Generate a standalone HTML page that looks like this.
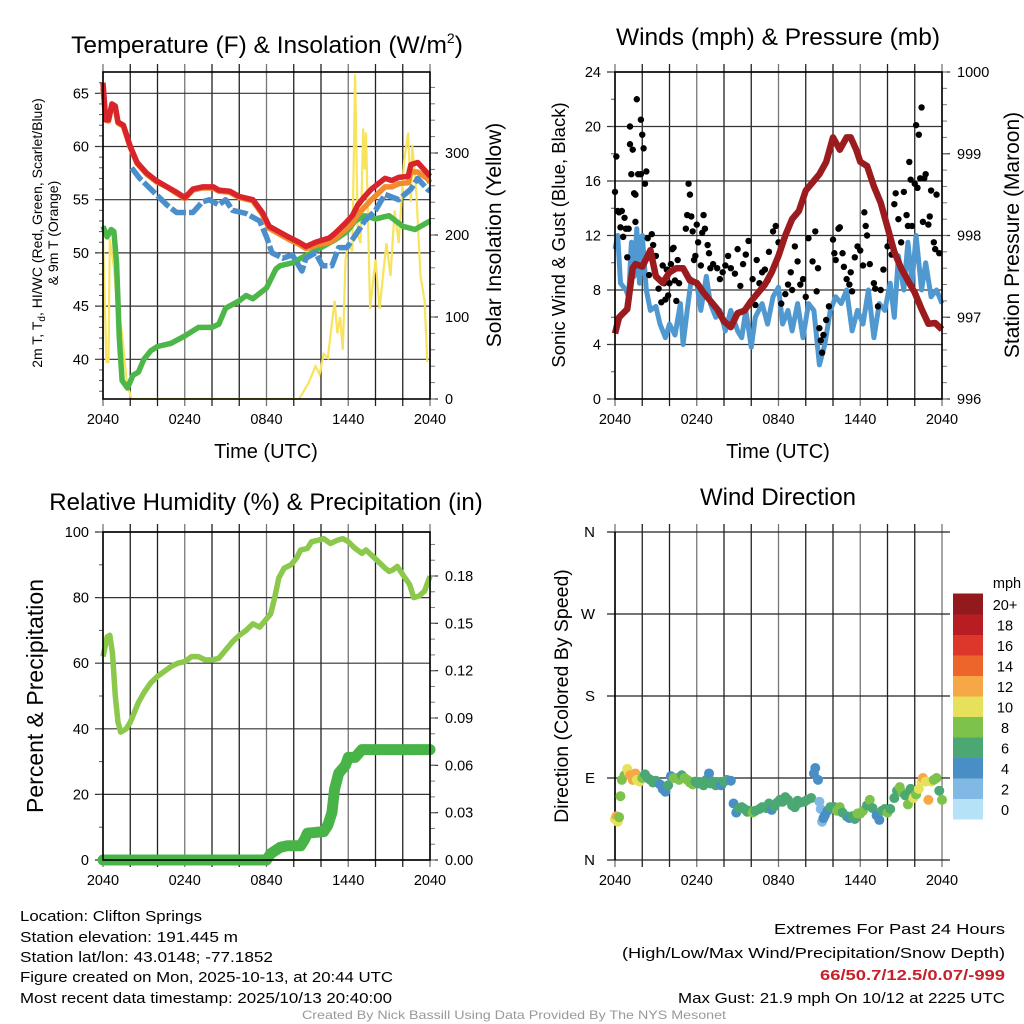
<!DOCTYPE html>
<html><head><meta charset="utf-8"><style>
html,body{margin:0;padding:0;background:#fff}
svg{display:block;font-family:"Liberation Sans",sans-serif}
</style></head><body>
<svg id="fig" xmlns="http://www.w3.org/2000/svg" width="1024" height="1024" viewBox="0 0 1024 1024">
<rect x="0" y="0" width="1024" height="1024" fill="#fff"/>
<g><text x="267" y="53" font-size="24.5" text-anchor="middle">Temperature (F) &amp; Insolation (W/m<tspan font-size="14" dy="-10">2</tspan><tspan dy="10">)</tspan></text></g>
<text x="778" y="45" font-size="24.5" text-anchor="middle">Winds (mph) &amp; Pressure (mb)</text>
<text x="266" y="510" font-size="24" text-anchor="middle">Relative Humidity (%) &amp; Precipitation (in)</text>
<text x="778" y="505" font-size="24" text-anchor="middle">Wind Direction</text>

<text x="266" y="458" font-size="20" text-anchor="middle">Time (UTC)</text>
<text x="778" y="458" font-size="20" text-anchor="middle">Time (UTC)</text>

<g font-size="14" text-anchor="middle">
<text transform="translate(42,233) rotate(-90)">2m T, T<tspan font-size="10" dy="3">d</tspan><tspan dy="-3">, HI/WC (Red, Green, Scarlet/Blue)</tspan></text>
<text transform="translate(58,233) rotate(-90)">&amp; 9m T (Orange)</text>
</g>
<text transform="translate(501,235) rotate(-90)" font-size="21" text-anchor="middle">Solar Insolation (Yellow)</text>
<text transform="translate(565,235) rotate(-90)" font-size="18.5" text-anchor="middle">Sonic Wind &amp; Gust (Blue, Black)</text>
<text transform="translate(1019,235) rotate(-90)" font-size="21" text-anchor="middle">Station Pressure (Maroon)</text>
<text transform="translate(43,696) rotate(-90)" font-size="23" text-anchor="middle">Percent &amp; Precipitation</text>
<text transform="translate(568,696) rotate(-90)" font-size="19.5" text-anchor="middle">Direction (Colored By Speed)</text>

<g font-size="15">
<text x="20" y="921" textLength="182" lengthAdjust="spacingAndGlyphs">Location: Clifton Springs</text>
<text x="20" y="942" textLength="218" lengthAdjust="spacingAndGlyphs">Station elevation: 191.445 m</text>
<text x="20" y="962" textLength="253" lengthAdjust="spacingAndGlyphs">Station lat/lon: 43.0148; -77.1852</text>
<text x="20" y="982" textLength="373" lengthAdjust="spacingAndGlyphs">Figure created on Mon, 2025-10-13, at 20:44 UTC</text>
<text x="20" y="1003" textLength="372" lengthAdjust="spacingAndGlyphs">Most recent data timestamp: 2025/10/13 20:40:00</text>
</g>
<g font-size="15">
<text x="774" y="934" textLength="231" lengthAdjust="spacingAndGlyphs">Extremes For Past 24 Hours</text>
<text x="622" y="958" textLength="383" lengthAdjust="spacingAndGlyphs">(High/Low/Max Wind/Precipitation/Snow Depth)</text>
<text x="820" y="980" textLength="185" lengthAdjust="spacingAndGlyphs" fill="#c8202a" font-weight="bold">66/50.7/12.5/0.07/-999</text>
<text x="678" y="1003" textLength="327" lengthAdjust="spacingAndGlyphs">Max Gust: 21.9 mph On 10/12 at 2225 UTC</text>
</g>
<text x="302" y="1019" font-size="12" fill="#999" textLength="424" lengthAdjust="spacingAndGlyphs">Created By Nick Bassill Using Data Provided By The NYS Mesonet</text>
</svg>
<script>
// ---------- DATA ----------
const xTickLabels = ["2040","0240","0840","1440","2040"];
// Temperature panel (hours since 2040 UTC)
const tempT = [0,0.2,0.4,0.65,0.9,1.1,1.5,2.0,2.5,3.2,3.9,4.7,5.4,6,6.6,7.3,8.1,8.5,9.3,10,11,11.7,12.2,12.9,13.6,14.4,14.9,15.6,16.6,17,17.8,18.3,18.7,19.2,19.7,20.7,21.2,21.7,22.4,22.6,23.1,23.8,24];
const tempRed = [66,62.5,62.5,64,63.8,62.3,62,60,58.5,57.5,56.8,56.2,55.7,55.2,56,56.2,56.2,55.9,55.8,55.3,55,53.8,52.5,52,51.5,51,50.6,51,51.4,51.8,52.8,53.5,54.5,55.3,56,57,56.8,57.1,57.2,58.3,58.5,57.5,57.2];
const tempOrange = [65.5,62.5,62.4,63.8,63.6,62.2,61.9,59.9,58.4,57.4,56.7,56.2,55.6,55.1,55.9,56.1,56.1,55.8,55.7,55.2,54.9,53.6,52.3,51.8,51.3,50.8,50.4,50.7,51.0,51.3,52.2,52.8,53.6,54.3,55,56.2,56.2,56.5,56.6,57.6,57.6,57.0,56.6];
const blueT = [2.1,2.7,4.7,5.4,6.6,7.3,7.8,8.5,9,9.5,10.5,11.5,12,12.4,13.2,13.9,14.6,14.9,15.6,16.1,16.8,17.3,17.9,18.7,19.2,20,20.7,21.7,22.6,23.1,23.8,24];
const blueVal = [58,57,54.5,53.8,53.8,54.8,55,54.5,55,54,53.7,53,51.5,50,49.5,49.8,48.3,49.5,50,48.8,48.8,50.5,50.5,52,53,54,55.5,55,56,57,56,55.8];
const dewT = [0,0.3,0.6,0.8,1.0,1.2,1.4,1.8,2.2,2.6,3,3.5,4,5,6,7,8,8.5,9,10,10.5,11,11.5,12,12.7,13,14,14.5,15,16,17,17.9,18.5,19.2,20,21,21.5,22,22.9,24];
const dewVal = [52.5,51.5,52.2,52,49,42,38,37.3,38.5,38.8,40,40.8,41.2,41.5,42.2,43,43,43.3,44.8,45.5,46,45.7,46.2,46.7,48.5,48.8,49.1,49.5,49.8,50.5,51.2,52,53,53.5,53.2,53.5,53,52.5,52.2,53];
const solarT = [0,0.25,0.4,0.5,0.8,1.0,1.4,1.75,2.1,14.4,15.1,15.6,15.9,16.2,16.5,17,17.2,17.4,17.6,17.8,18.0,18.3,18.5,18.7,18.9,19.1,19.2,19.3,19.6,20,20.3,20.8,21.1,21.4,21.7,22.1,22.4,22.6,22.7,23,23.3,23.6,23.8];
const solarVal = [200,45,45,195,160,120,80,20,0,0,20,40,30,55,50,120,80,100,60,170,190,180,396,200,190,330,280,325,110,170,110,190,150,230,190,290,325,240,310,250,150,120,45];
const tempTicks = [40,45,50,55,60,65];
const solarTicks = [0,100,200,300];
// Winds panel
const windT = [0,0.2,0.4,0.8,1.0,1.2,1.4,1.6,1.8,2.0,2.3,2.6,3.0,3.3,3.7,4.0,4.4,4.8,5.0,5.3,5.6,6.0,6.3,6.7,7.0,7.4,7.7,8.1,8.5,9.0,9.3,9.6,10.0,10.3,10.8,11.2,11.6,12.0,12.3,12.7,13.0,13.4,13.8,14.2,14.6,15.0,15.4,15.8,16.2,16.6,17.0,17.4,17.8,18.2,18.6,19.0,19.4,19.8,20.2,20.5,20.8,21.2,21.5,21.8,22.1,22.5,22.8,23.2,23.6,24];
const windVal = [11,12,8.5,8,7.5,11.5,9,12.5,8.5,12,8,6.5,6.8,5.5,4.5,5.5,4.7,7,4.0,6.5,8.8,8.5,6.5,9,7,6,6.5,5,6.5,5,4.5,6.5,3.8,6,7,5.5,7.5,8.2,5.5,6.5,5,7,4.5,7,6.5,2.5,4,6.5,7.5,7,8,5,6.5,5.5,8,4.5,7,6.5,8.5,6,10.5,8,11.5,8.5,12,8,10,7.5,8,7];
const gustT = [0,0.1,0.2,0.3,0.4,0.5,0.6,0.7,0.8,0.9,1.0,1.1,1.1,1.2,1.3,1.4,1.5,1.5,1.6,1.7,1.9,1.9,2.0,2.1,2.2,2.3,2.4,2.5,2.7,2.8,3.0,3.2,3.4,3.5,3.6,3.7,3.8,3.9,4.0,4.1,4.2,4.3,4.4,4.5,4.6,4.7,5.2,5.3,5.4,5.5,5.6,5.7,5.8,5.9,6.0,6.1,6.3,6.4,6.5,6.6,6.8,6.9,7.0,7.2,7.5,7.7,7.9,8.1,8.3,8.5,8.8,9.0,9.2,9.4,9.6,9.8,10.1,10.3,10.4,10.6,10.8,11.0,11.2,11.3,11.6,11.8,12.0,12.2,12.5,12.7,12.9,13.0,13.2,13.4,13.6,13.8,14.0,14.2,14.5,14.7,14.8,14.9,15.0,15.1,15.2,15.3,15.5,15.7,16.0,16.1,16.2,16.4,16.5,16.7,16.8,17.0,17.2,17.3,17.4,17.6,17.8,18.0,18.2,18.3,18.4,18.5,18.7,19.0,19.1,19.3,19.5,19.7,20.0,20.2,20.3,20.5,20.6,20.8,21.0,21.2,21.4,21.5,21.6,21.7,21.8,22.0,22.1,22.2,22.3,22.4,22.5,22.6,22.7,22.8,23.0,23.1,23.2,23.4,23.5,23.6,23.8];
const gustVal = [15.2,17.8,13.8,13.7,12.6,13.8,11.9,13.3,12.5,10.4,12.5,18.7,20,16.5,18.3,15.1,13,15,22,16.5,20.5,16.5,19.4,18.4,15.8,16.7,11.8,9.1,12.1,11.3,10.5,8.1,7.1,9.8,8.5,7.3,9.5,7.6,8.5,9.9,11,11.1,8.7,7.2,10.2,8.5,12.5,13.5,15.8,15,13.4,12.3,10.2,10.5,12.8,11.5,9.8,12.2,13.5,12.5,11.3,10.7,9.6,9.9,9.6,8.8,9.3,9.8,10.5,9.6,9.2,11,8.3,9.9,10.6,11.6,8.8,6.9,10.2,8.5,9.3,9.5,8.7,10.8,12.3,12.7,11.5,7,7.7,8.4,9.3,8.0,11.2,10.1,8.4,8.8,7.5,11.8,10.1,12.3,7.9,9.6,5.2,4.3,3.4,4.7,5.8,6.8,11.7,10.7,10.2,12.5,12.6,10.7,9.7,8.8,8.4,9.3,7.9,10.4,11.2,10.9,9.8,13.7,12.7,12,9.9,8.5,8.1,6.8,8,9.5,11.2,11.7,10.6,14.3,15.1,13.2,11.5,15.2,13.5,12.7,17.4,16.1,12.7,15.8,20.1,15.5,19.4,16.2,21.4,13,16.2,16.5,12.8,13.4,15.3,11.5,11,15,10.7];
const presT = [0,0.3,0.9,1.3,1.5,2.0,2.4,2.6,3.0,3.5,4.0,4.5,5.0,5.5,6.0,6.5,7.0,7.5,8.0,8.5,9.0,9.5,10.0,10.5,11.0,11.5,12.0,12.5,13.0,13.5,14.0,14.5,15.0,15.5,16.0,16.5,17.0,17.3,17.7,18,18.5,19.0,19.5,20.0,20.5,21.0,21.5,22.0,22.5,23.0,23.5,24];
const presVal = [996.8,997.0,997.1,997.6,997.65,997.62,997.75,997.82,997.5,997.42,997.55,997.6,997.6,997.45,997.42,997.3,997.2,997.1,996.95,996.88,997.05,997.08,997.2,997.3,997.4,997.55,997.75,998.0,998.2,998.3,998.55,998.65,998.75,998.9,999.2,999.05,999.2,999.2,999.05,998.9,998.85,998.6,998.4,998.1,997.8,997.6,997.45,997.3,997.1,996.92,996.93,996.85];
const windTicks = [0,4,8,12,16,20,24];
const presTicks = [996,997,998,999,1000];
// Humidity / precip panel
const rhT = [0,0.3,0.5,0.7,0.9,1.1,1.3,1.7,2.0,2.3,2.6,3.0,3.5,4.0,4.5,5.0,5.5,6.0,6.5,7.0,7.5,8.0,8.5,9.0,9.5,10.0,10.5,11.0,11.5,12.0,12.3,12.6,12.9,13.3,13.8,14.2,14.5,15.0,15.3,15.8,16.2,16.7,17.2,17.6,18.0,18.5,19.0,19.3,19.7,20.2,20.7,21.0,21.3,21.6,22.0,22.5,22.8,23.2,23.6,24];
const rhVal = [62,68,68.5,63,50,42,39,40,42,45,48,51,54,56,57.5,59,60,60.5,62,62,61,61,61.5,64,66.5,68.5,70,72,71,73.5,75,80,86,89,90,92,94.5,95,97,97.5,98,96.5,97.5,98,97,95,93.5,94.5,93,91,89,88,88.5,89.5,87,84,80,80.5,82,86.5];
const precT = [0,12,12.3,13,13.5,14.5,14.8,15,16.2,16.5,16.8,17,17.3,17.8,18,18.5,19,24];
const precVal = [0,0,0.004,0.008,0.009,0.009,0.013,0.017,0.018,0.022,0.03,0.045,0.055,0.06,0.065,0.065,0.07,0.07];
const rhTicks = [0,20,40,60,80,100];
const precTicks = [0,0.03,0.06,0.09,0.12,0.15,0.18];
const precTickLabels = ["0.00","0.03","0.06","0.09","0.12","0.15","0.18"];
// Wind direction panel
const dirT = [0,0.1,0.2,0.3,0.4,0.5,0.7,0.9,1.0,1.1,1.3,1.5,1.6,1.8,2.0,2.2,2.4,2.6,2.8,3.0,3.3,3.5,3.7,3.9,4.1,4.3,4.5,4.7,4.9,5.1,5.3,5.5,5.7,5.9,6.1,6.3,6.5,6.7,6.9,7.0,7.2,7.4,7.6,7.8,8.0,8.2,8.5,8.7,8.9,9.1,9.3,9.5,9.7,9.9,10.1,10.3,10.6,10.8,11.1,11.3,11.5,11.7,11.9,12.1,12.3,12.5,12.7,13.0,13.2,13.4,13.6,13.9,14.1,14.4,14.6,14.7,14.9,15.0,15.1,15.2,15.3,15.4,15.6,15.8,16.1,16.3,16.5,16.7,17.0,17.2,17.4,17.6,17.8,18.0,18.2,18.5,18.7,18.9,19.2,19.4,19.6,19.8,20.0,20.2,20.5,20.7,20.9,21.1,21.3,21.5,21.7,21.9,22.1,22.3,22.5,22.6,22.8,23.0,23.2,23.4,23.6,23.8,24];
const dirVal = [45,48,42,47,70,88,93,100,96,93,88,95,88,86,90,94,90,88,85,87,83,78,75,82,92,90,90,88,93,90,88,85,83,86,84,85,82,88,95,84,86,82,85,82,86,88,87,62,52,57,58,56,53,54,52,54,56,58,57,62,55,59,63,66,64,69,66,60,58,65,63,64,66,68,95,101,88,64,56,42,46,49,54,58,58,54,58,52,48,46,48,45,51,51,54,60,66,57,49,44,54,56,52,56,68,76,80,74,71,61,78,68,72,78,86,90,86,66,86,88,90,76,66];
const dirSpeed = [10,12,10,8,8,8,8,10,10,12,12,12,10,10,8,6,6,6,6,6,4,4,4,6,4,8,8,8,6,8,8,8,8,6,6,6,6,6,4,6,6,6,6,4,6,6,4,4,4,6,6,6,6,6,8,6,6,6,6,6,4,6,6,6,6,6,6,6,6,6,6,6,6,6,4,4,4,2,2,2,4,4,4,6,6,8,8,6,6,4,6,6,8,8,8,6,8,6,4,4,6,6,8,6,6,6,8,8,6,8,6,10,8,10,10,12,10,12,10,8,8,6,8];
const dirTicks = [0,90,180,270,360];
const dirTickLabels = ["N","E","S","W","N"];
const speedBinLabels = ["0","2","4","6","8","10","12","14","16","18","20+"];
const speedBinColors = ["#b5e2f7","#80bae4","#4a8ec6","#4ba873","#7dc24b","#e6e05a","#f5a845","#ee652c","#dd372b","#b91d24","#921a1d"];

// ---------- DRAW ----------
const NS = "http://www.w3.org/2000/svg";
const svg = document.getElementById("fig");
function add(parent, tag, attrs){
  const e = document.createElementNS(NS, tag);
  for (const k in attrs) e.setAttribute(k, attrs[k]);
  parent.appendChild(e);
  return e;
}
function linScale(d0,d1,r0,r1){ return v => r0 + (v-d0)*(r1-r0)/(d1-d0); }

function panel(name, x0, x1, yTop, yBot){
  const g = add(svg, "g", {});
  
  
  const xs = linScale(0,24,x0,x1);
  for (let h=0; h<=24; h+=2){
    const gl = add(g, "line", {x1:xs(h), x2:xs(h), y1:yTop-8, y2:yBot+7, stroke:(h%6===0)?"#777":"#222", "stroke-width":1.3});
    
    
  }
  for (let i=0;i<xTickLabels.length;i++){
    const t = add(g, "text", {x:xs(i*6), y:yBot+25, "font-size":14.5, "text-anchor":"middle"});
    t.textContent = xTickLabels[i];
    
    
  }
  return {g, xs};
}
function box(g, x0, x1, yTop, yBot){
  const b = add(g, "rect", {x:x0, y:yTop, width:x1-x0, height:yBot-yTop, fill:"none", stroke:"#000", "stroke-width":1.6});
  
  
}
function hgrid(g, ticks, ys, x0, x1, labels, side, minorStep, lo, hi){
  ticks.forEach((v,i)=>{
    const l = add(g, "line", {x1:x0-8, x2:x1, y1:ys(v), y2:ys(v), stroke:"#333", "stroke-width":1.2});
    
    
    const t = add(g, "text", {x:x0-14, y:ys(v)+5, "font-size":14.5, "text-anchor":"end"});
    t.textContent = labels ? labels[i] : v;
    
    
  });
  for (let v=lo; v<=hi+1e-9; v+=minorStep){
    const m = add(g, "line", {x1:x0-4, x2:x0, y1:ys(v), y2:ys(v), stroke:"#555", "stroke-width":1});
    
    
  }
}
function rightAxis(g, ticks, ys, x1, labels, minorStep, lo, hi){
  ticks.forEach((v,i)=>{
    const l = add(g, "line", {x1:x1, x2:x1+8, y1:ys(v), y2:ys(v), stroke:"#333", "stroke-width":1.2});
    
    
    const t = add(g, "text", {x:x1+15, y:ys(v)+5, "font-size":14.5});
    t.textContent = labels ? labels[i] : v;
    
    
  });
  for (let v=lo; v<=hi+1e-9; v+=minorStep){
    const m = add(g, "line", {x1:x1, x2:x1+5, y1:ys(v), y2:ys(v), stroke:"#777", "stroke-width":1});
    
    
  }
}
function pathFrom(ts, vs, xs, ys){
  return ts.map((t,i)=>(i?"L":"M")+xs(t).toFixed(1)+","+ys(vs[i]).toFixed(1)).join(" ");
}

// Panel 1: temperature
{
  const x0=103,x1=430,yT=72,yB=399;
  const {g,xs} = panel("temperature-panel", x0,x1,yT,yB);
  const ys = linScale(65,40,93.3,359.3);
  const ysol = linScale(0,300,399,153);
  hgrid(g, tempTicks, ys, x0, x1, null, "l", 1, 37, 66);
  rightAxis(g, solarTicks, ysol, x1, null, 20, 0, 380);
  const defs = add(g,"clipPath",{id:"c1"}); add(defs,"rect",{x:x0,y:yT,width:x1-x0,height:yB-yT});
  const sol = add(g,"path",{d:pathFrom(solarT,solarVal,xs,ysol),fill:"none",stroke:"#f7e35c","stroke-width":2.2,"clip-path":"url(#c1)"});
  
  
  const dew = add(g,"path",{d:pathFrom(dewT,dewVal,xs,ys),fill:"none",stroke:"#4cb748","stroke-width":5.5,"stroke-linejoin":"round"});
  
  
  const bl = add(g,"path",{d:pathFrom(blueT,blueVal,xs,ys),fill:"none",stroke:"#4a8fcc","stroke-width":5.5,"stroke-linejoin":"round","stroke-dasharray":"16 3"});
  
  
  const or = add(g,"path",{d:pathFrom(tempT,tempOrange,xs,ys),fill:"none",stroke:"#f28a2e","stroke-width":5.5,"stroke-linejoin":"round"});
  
  
  const rd = add(g,"path",{d:pathFrom(tempT,tempRed,xs,ys),fill:"none",stroke:"#d8242a","stroke-width":5.5,"stroke-linejoin":"round"});
  
  
  box(g,x0,x1,yT,yB);
}
// Panel 2: winds
{
  const x0=615,x1=942,yT=72,yB=399;
  const {g,xs} = panel("winds-panel", x0,x1,yT,yB);
  const ys = linScale(0,24,399,72);
  const yp = linScale(996,1000,399,72);
  hgrid(g, windTicks, ys, x0, x1, null, "l", 2, 0, 24);
  rightAxis(g, presTicks, yp, x1, null, 0.2, 996, 1000);
  const w = add(g,"path",{d:pathFrom(windT,windVal,xs,ys),fill:"none",stroke:"#5098d0","stroke-width":5,"stroke-linejoin":"round"});
  
  
  gustT.forEach((t,i)=>{
    const c = add(g,"circle",{cx:xs(t),cy:ys(gustVal[i]),r:3.2,fill:"#000"});
    
    
  });
  const p = add(g,"path",{d:pathFrom(presT,presVal,xs,yp),fill:"none",stroke:"#9b1b1e","stroke-width":6.5,"stroke-linejoin":"round"});
  
  
  box(g,x0,x1,yT,yB);
}
// Panel 3: humidity
{
  const x0=103,x1=430,yT=532,yB=860;
  const {g,xs} = panel("humidity-panel", x0,x1,yT,yB);
  const ys = linScale(0,100,860,532);
  const yp = linScale(0,0.18,860,576);
  hgrid(g, rhTicks, ys, x0, x1, null, "l", 10, 0, 100);
  rightAxis(g, precTicks, yp, x1, precTickLabels, 0.01, 0, 0.2);
  const pr = add(g,"path",{d:pathFrom(precT,precVal,xs,yp),fill:"none",stroke:"#48b448","stroke-width":11,"stroke-linejoin":"round","stroke-linecap":"round"});
  
  
  const rh = add(g,"path",{d:pathFrom(rhT,rhVal,xs,ys),fill:"none",stroke:"#8cc84b","stroke-width":5.5,"stroke-linejoin":"round"});
  
  
  box(g,x0,x1,yT,yB);
}
// Panel 4: wind direction
{
  const x0=615,x1=942,yT=532,yB=860;
  const {g,xs} = panel("wind-direction-panel", x0,x1,yT,yB);
  const ys = linScale(0,360,860,532);
  dirTicks.forEach((v,i)=>{
    const l = add(g,"line",{x1:x0-8,x2:x1+8,y1:ys(v),y2:ys(v),stroke:"#222","stroke-width":1.2});
    
    
    const t = add(g,"text",{x:x0-20,y:ys(v)+5,"font-size":15,"text-anchor":"end"});
    t.textContent = dirTickLabels[i];
    
    
  });
  const lx = add(g,"line",{x1:x0,x2:x0,y1:yT,y2:yB,stroke:"#000","stroke-width":1.6});
  
  
  dirT.forEach((t,i)=>{
    const bin = Math.min(10, Math.floor(dirSpeed[i]/2));
    const c = add(g,"circle",{cx:xs(t),cy:ys(dirVal[i]),r:5,fill:speedBinColors[bin]});
    
    
  });
  const lg = add(svg,"g",{});
  
  
  const bh = 20.5, lyB = 819;
  speedBinColors.forEach((col,i)=>{
    const r = add(lg,"rect",{x:953,y:lyB-(i+1)*bh,width:30,height:bh+0.5,fill:col});
    
    
    const t = add(lg,"text",{x:1005,y:lyB-i*bh-4,"font-size":14.5,"text-anchor":"middle"});
    t.textContent = speedBinLabels[i];
    
    
  });
  const u = add(lg,"text",{x:1007,y:588,"font-size":14.5,"text-anchor":"middle"});
  u.textContent = "mph";
  
  
}
</script>
</body></html>
